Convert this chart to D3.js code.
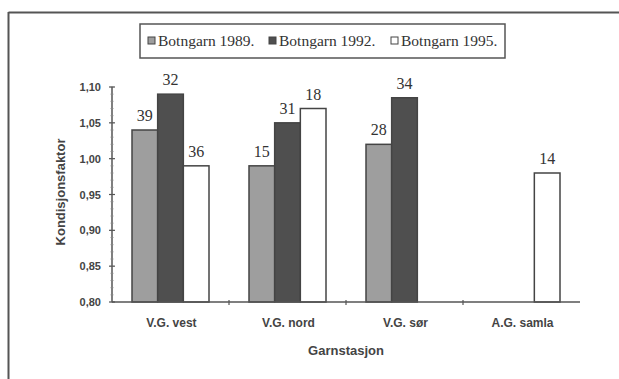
<!DOCTYPE html>
<html>
<head>
<meta charset="utf-8">
<script src="https://cdn.jsdelivr.net/npm/d3@7/dist/d3.min.js"></script>
<style>
  body { margin: 0; background: #fff; }
  svg { display: block; }
</style>
</head>
<body>
<svg id="chart" width="619" height="379"></svg>
<script>
// Condition factor per net station and survey year
const stations = ["V.G. vest", "V.G. nord", "V.G. sør", "A.G. samla"];
const years = ["Botngarn 1989.", "Botngarn 1992.", "Botngarn 1995."];
const values1989 = [1.04, 0.99, 1.02, null];
const values1992 = [1.09, 1.05, 1.085, null];
const values1995 = [0.99, 1.07, null, 0.98];
const counts1989 = [39, 15, 28, null];
const counts1992 = [32, 31, 34, null];
const counts1995 = [36, 18, null, 14];
const yTicks = [0.80, 0.85, 0.90, 0.95, 1.00, 1.05, 1.10];

const seriesValues = [values1989, values1992, values1995];
const seriesCounts = [counts1989, counts1992, counts1995];
const fills = ["#9e9e9e", "#4f4f4f", "#ffffff"];

const svg = d3.select("#chart");
const m = { left: 112, right: 580, top: 87, bottom: 302 };

// frame lines
svg.append("line").attr("x1", 8.5).attr("x2", 619).attr("y1", 12.5).attr("y2", 12.5)
  .attr("stroke", "#555").attr("stroke-width", 2);
svg.append("line").attr("x1", 8.5).attr("x2", 8.5).attr("y1", 12).attr("y2", 379)
  .attr("stroke", "#555").attr("stroke-width", 2);

const x = d3.scaleBand().domain(stations).range([m.left, m.right]).paddingInner(0).paddingOuter(0);
const inner = d3.scaleBand().domain(d3.range(3)).range([20, x.bandwidth() - 20]);
const y = d3.scaleLinear().domain([0.80, 1.10]).range([m.bottom, m.top]);

// bars
const bars = [];
seriesValues.forEach((vals, s) => {
  vals.forEach((v, i) => {
    if (v != null) bars.push({ s, station: stations[i], v, n: seriesCounts[s][i] });
  });
});

svg.append("g").selectAll("rect").data(bars).join("rect")
  .attr("x", d => x(d.station) + inner(d.s))
  .attr("y", d => y(d.v))
  .attr("width", inner.bandwidth())
  .attr("height", d => y(0.80) - y(d.v))
  .attr("fill", d => fills[d.s])
  .attr("stroke", "#444")
  .attr("stroke-width", 1.5);

svg.append("g").selectAll("text").data(bars).join("text")
  .attr("x", d => x(d.station) + inner(d.s) + inner.bandwidth() / 2)
  .attr("y", d => y(d.v) - 9)
  .attr("text-anchor", "middle")
  .attr("font-family", "Liberation Serif, serif")
  .attr("font-size", 16)
  .attr("fill", "#333")
  .text(d => d.n);

// y axis
const yAxis = svg.append("g");
yAxis.append("line").attr("x1", m.left).attr("x2", m.left).attr("y1", m.top).attr("y2", m.bottom)
  .attr("stroke", "#555").attr("stroke-width", 1.5);
const minor = d3.range(80, 111, 1).map(v => v / 100);
yAxis.selectAll(".minor").data(minor).join("line")
  .attr("x1", m.left - 1.5).attr("x2", m.left + 1.5)
  .attr("y1", d => y(d)).attr("y2", d => y(d))
  .attr("stroke", "#888").attr("stroke-width", 0.8);
yAxis.selectAll(".major").data(yTicks).join("line")
  .attr("x1", m.left - 3).attr("x2", m.left + 3)
  .attr("y1", d => y(d)).attr("y2", d => y(d))
  .attr("stroke", "#555").attr("stroke-width", 1.2);
yAxis.selectAll("text").data(yTicks).join("text")
  .attr("x", 101).attr("y", d => y(d) + 4)
  .attr("text-anchor", "end")
  .attr("font-family", "Liberation Sans, Arial, sans-serif")
  .attr("font-weight", "bold")
  .attr("font-size", 11)
  .attr("fill", "#444")
  .text(d => d3.format(".2f")(d).replace(".", ","));

// x axis
const xAxis = svg.append("g");
xAxis.append("line").attr("x1", m.left).attr("x2", m.right).attr("y1", m.bottom).attr("y2", m.bottom)
  .attr("stroke", "#555").attr("stroke-width", 1.5);
xAxis.selectAll(".tick").data(stations.slice(1)).join("line")
  .attr("x1", d => x(d)).attr("x2", d => x(d))
  .attr("y1", m.bottom - 2).attr("y2", m.bottom + 3)
  .attr("stroke", "#555").attr("stroke-width", 1.2);
xAxis.selectAll("text").data(stations).join("text")
  .attr("x", d => x(d) + x.bandwidth() / 2 + 1)
  .attr("y", m.bottom + 25)
  .attr("text-anchor", "middle")
  .attr("font-family", "Liberation Sans, Arial, sans-serif")
  .attr("font-weight", "bold")
  .attr("font-size", 12)
  .attr("fill", "#444")
  .text(d => d);

// axis titles
svg.append("text")
  .attr("x", 346).attr("y", 355)
  .attr("text-anchor", "middle")
  .attr("font-family", "Liberation Sans, Arial, sans-serif")
  .attr("font-weight", "bold")
  .attr("font-size", 13)
  .attr("fill", "#444")
  .text("Garnstasjon");
svg.append("text")
  .attr("transform", "translate(65,192) rotate(-90)")
  .attr("text-anchor", "middle")
  .attr("font-family", "Liberation Sans, Arial, sans-serif")
  .attr("font-weight", "bold")
  .attr("font-size", 13)
  .attr("fill", "#444")
  .text("Kondisjonsfaktor");

// legend
const legend = svg.append("g");
legend.append("rect").attr("x", 140).attr("y", 24).attr("width", 365).attr("height", 34)
  .attr("fill", "#fff").attr("stroke", "#555").attr("stroke-width", 1.5);
const legendX = [148, 269, 391];
years.forEach((name, i) => {
  legend.append("rect").attr("x", legendX[i]).attr("y", 37).attr("width", 7).attr("height", 7)
    .attr("fill", fills[i]).attr("stroke", "#444").attr("stroke-width", 1);
  legend.append("text").attr("x", legendX[i] + 10).attr("y", 45.5)
    .attr("font-family", "Liberation Serif, serif")
    .attr("font-size", 15.5)
    .attr("fill", "#333")
    .text(name);
});
</script>
</body>
</html>
